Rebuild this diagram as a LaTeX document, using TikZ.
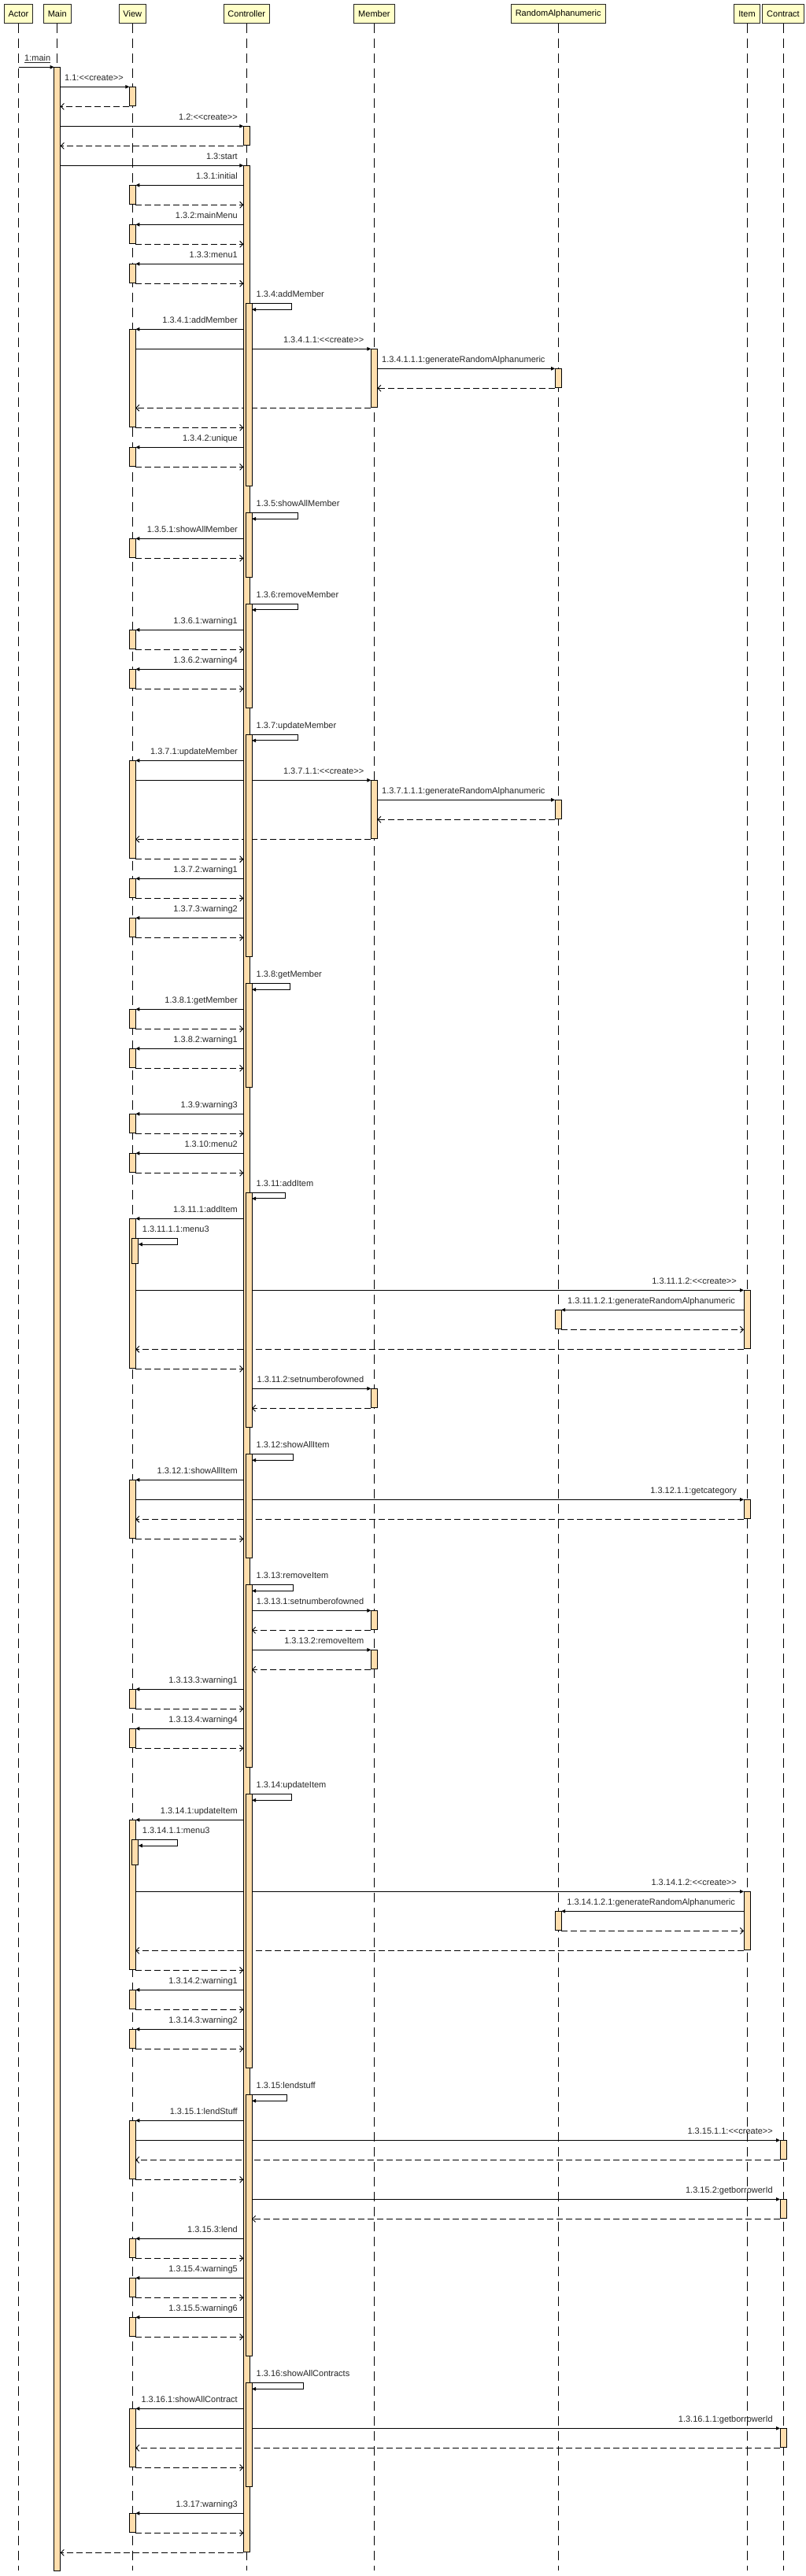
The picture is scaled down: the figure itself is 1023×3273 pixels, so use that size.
\documentclass[tikz,border=0pt]{standalone}
\usepackage{fontspec}
\setmainfont{Liberation Sans}
\usetikzlibrary{arrows.meta}
\definecolor{hdrfill}{RGB}{255,255,200}
\definecolor{barfill}{RGB}{255,222,173}
\pgfdeclarelayer{bgl}
\pgfdeclarelayer{ll}
\pgfdeclarelayer{msgl}
\pgfsetlayers{bgl,ll,msgl,main}
\tikzset{
  hdr/.style={draw=black!85, fill=hdrfill, minimum height=24pt, inner xsep=5.5pt, inner ysep=0pt, font=\fontsize{11}{13}\selectfont, line width=0.8pt},
  life/.style={draw=black, line width=0.9pt, dash pattern=on 12.5pt off 6.5pt},
  msg/.style={draw=black, line width=0.9pt, -{Triangle[length=5pt,width=4.5pt]}},
  ret/.style={draw=black, line width=0.9pt, dash pattern=on 8pt off 4pt, -{Straight Barb[length=4pt,width=8pt]}},
  actbar/.style={draw=black, fill=barfill, line width=0.8pt},
  lbl/.style={font=\fontsize{11}{13}\selectfont, inner sep=0pt, text=black!85},
}
\newcommand\ltlt{<\kern0pt<}
\newcommand\gtgt{>\kern0pt>}
\newcommand\sqMsg[3]{\begin{pgfonlayer}{msgl}\draw[msg] (#1,#3) -- (#2,#3);\end{pgfonlayer}}
\newcommand\sqRet[3]{\begin{pgfonlayer}{msgl}\draw[ret] (#1,#3) -- (#2,#3);\end{pgfonlayer}}
\newcommand\sqBar[3]{\filldraw[actbar] (#1-4,#2) rectangle (#1+4,#3);}
\newcommand\sqLblE[3]{\node[lbl,anchor=base east] at (#1,#2-8) {#3};}
\newcommand\sqLblW[3]{\node[lbl,anchor=base west] at (#1,#2-8) {#3};}
% controller -> view simple call
\newcommand\sqVcall[2]{\sqMsg{309.3}{172.3}{#1}\sqBar{168.3}{#1}{#1+24}\sqRet{172.3}{309.3}{#1+25}\sqLblE{302}{#1}{#2}}
% controller -> view long call
\newcommand\sqVlong[3]{\sqMsg{309.3}{172.3}{#1}\sqBar{168.3}{#1}{#2}\sqRet{172.3}{309.3}{#2+1}\sqLblE{302}{#1}{#3}}
% controller self call
\newcommand\sqSelf[4]{\begin{pgfonlayer}{msgl}\draw[msg] (317.3,#1) -- (#2,#1) -- (#2,#1+7.6) -- (320,#1+7.6);\end{pgfonlayer}\sqBar{316}{#1}{#3}\sqLblW{325.5}{#1}{#4}}
% view self call
\newcommand\sqVself[3]{\begin{pgfonlayer}{msgl}\draw[msg] (172.3,#1) -- (225.3,#1) -- (225.3,#1+7.7) -- (175.8,#1+7.7);\end{pgfonlayer}\sqBar{171.8}{#1}{#2}\sqLblW{180.7}{#1}{#3}}
% rightward call to lifeline centre #2
\newcommand\sqCall[5]{\sqMsg{#1}{#2-4}{#3}\sqBar{#2}{#3}{#4}\sqRet{#2-4}{#1}{#4+1}\sqLblE{#2-13}{#3}{#5}}
% member -> random
\newcommand\sqMR[2]{\sqMsg{479.4}{705.2}{#1}\sqBar{709.2}{#1}{#1+24.4}\sqRet{705.2}{479.4}{#1+25}\sqLblW{485}{#1}{#2}}
% item -> random
\newcommand\sqIR[2]{\sqMsg{945}{713.2}{#1}\sqBar{709.2}{#1}{#1+24.4}\sqRet{713.2}{945}{#1+25}\sqLblE{934}{#1}{#2}}
\begin{document}
\begin{tikzpicture}[x=1pt,y=-1pt]
\begin{pgfonlayer}{bgl}
\fill[white] (0,0) rectangle (1023,3273);
\end{pgfonlayer}
\path[use as bounding box] (0,0) rectangle (1023,3273);
% headers
\node[hdr] (actor) at (23.5,17.3) {Actor};
\node[hdr] (main) at (72.7,17.3) {Main};
\node[hdr] (view) at (168.3,17.3) {View};
\node[hdr] (ctrl) at (313.3,17.3) {Controller};
\node[hdr] (member) at (475.4,17.3) {Member};
\node[hdr] (ra) at (709.2,17.3) {RandomAlphanumeric};
\node[hdr] (item) at (949,17.3) {Item};
\node[hdr] (contract) at (995,17.3) {Contract};
\begin{pgfonlayer}{ll}
\foreach \n in {actor,main,view,ctrl,member,ra,item,contract}
  \draw[life] (\n.south) -- (\n.south |- 0,3266);
\end{pgfonlayer}
% 1:main
\sqMsg{23.5}{68.7}{85.3}
\node[lbl,anchor=base west] (m1) at (31,77.3) {\underline{1:main}};
\sqBar{72.7}{85.3}{3266.7}
% 1.1
\sqMsg{76.7}{164.3}{110.3}
\sqBar{168.3}{110.3}{134.7}
\sqRet{164.3}{76.7}{135.3}
\sqLblE{157}{110.3}{1.1:\ltlt create\gtgt}
% 1.2
\sqMsg{76.7}{309.3}{160.3}
\sqBar{313.3}{160.3}{184.3}
\sqRet{309.3}{76.7}{185.3}
\sqLblE{302}{160.3}{1.2:\ltlt create\gtgt}
% 1.3
\sqMsg{76.7}{309.3}{210.3}
\sqBar{313.3}{210.3}{3242.3}
\sqRet{309.3}{76.7}{3243.3}
\sqLblE{302}{210.3}{1.3:start}
\sqVcall{235.3}{1.3.1:initial}
\sqVcall{285.3}{1.3.2:mainMenu}
\sqVcall{335.3}{1.3.3:menu1}
\sqSelf{385.7}{370}{617.3}{1.3.4:addMember}
\sqVlong{418.3}{542.3}{1.3.4.1:addMember}
\sqCall{172.3}{475.4}{443.3}{517.3}{1.3.4.1.1:\ltlt create\gtgt}
\sqMR{468.3}{1.3.4.1.1.1:generateRandomAlphanumeric}
\sqVcall{568.3}{1.3.4.2:unique}
\sqSelf{651.7}{378.5}{733.3}{1.3.5:showAllMember}
\sqVcall{684.3}{1.3.5.1:showAllMember}
\sqSelf{767.3}{378.5}{899.3}{1.3.6:removeMember}
\sqVcall{800.3}{1.3.6.1:warning1}
\sqVcall{850.3}{1.3.6.2:warning4}
\sqSelf{933.3}{378}{1215.3}{1.3.7:updateMember}
\sqVlong{966.3}{1090.7}{1.3.7.1:updateMember}
\sqCall{172.3}{475.4}{991.3}{1065.3}{1.3.7.1.1:\ltlt create\gtgt}
\sqMR{1016.3}{1.3.7.1.1.1:generateRandomAlphanumeric}
\sqVcall{1116.3}{1.3.7.2:warning1}
\sqVcall{1166.3}{1.3.7.3:warning2}
\sqSelf{1249.7}{368}{1381.7}{1.3.8:getMember}
\sqVcall{1282.3}{1.3.8.1:getMember}
\sqVcall{1332.3}{1.3.8.2:warning1}
\sqVcall{1415.3}{1.3.9:warning3}
\sqVcall{1465.3}{1.3.10:menu2}
\sqSelf{1515.3}{362.8}{1813.3}{1.3.11:addItem}
\sqVlong{1548.3}{1738.3}{1.3.11.1:addItem}
\sqVself{1573.3}{1605.3}{1.3.11.1.1:menu3}
\sqCall{172.3}{949}{1639.3}{1713.3}{1.3.11.1.2:\ltlt create\gtgt}
\sqIR{1664.3}{1.3.11.1.2.1:generateRandomAlphanumeric}
\sqCall{320}{475.4}{1764.3}{1788.3}{1.3.11.2:setnumberofowned}
\sqSelf{1847.7}{372}{1979.3}{1.3.12:showAllItem}
\sqVlong{1880.3}{1954.3}{1.3.12.1:showAllItem}
\sqCall{172.3}{949}{1905.3}{1929.3}{1.3.12.1.1:getcategory}
\sqSelf{2013.7}{372}{2245.3}{1.3.13:removeItem}
\sqCall{320}{475.4}{2046.3}{2070.3}{1.3.13.1:setnumberofowned}
\sqCall{320}{475.4}{2096.3}{2120.3}{1.3.13.2:removeItem}
\sqVcall{2146.3}{1.3.13.3:warning1}
\sqVcall{2196.3}{1.3.13.4:warning4}
\sqSelf{2279.7}{370.7}{2627.3}{1.3.14:updateItem}
\sqVlong{2312.3}{2502.3}{1.3.14.1:updateItem}
\sqVself{2337.3}{2369.3}{1.3.14.1.1:menu3}
\sqCall{172.3}{949}{2403.3}{2477.3}{1.3.14.1.2:\ltlt create\gtgt}
\sqIR{2428.3}{1.3.14.1.2.1:generateRandomAlphanumeric}
\sqVcall{2528.3}{1.3.14.2:warning1}
\sqVcall{2578.3}{1.3.14.3:warning2}
\sqSelf{2661.7}{364.8}{2993.3}{1.3.15:lendstuff}
\sqVlong{2694.3}{2768.3}{1.3.15.1:lendStuff}
\sqCall{172.3}{995}{2719.3}{2743.3}{1.3.15.1.1:\ltlt create\gtgt}
\sqCall{320}{995}{2794.3}{2818.3}{1.3.15.2:getborrowerId}
\sqVcall{2844.3}{1.3.15.3:lend}
\sqVcall{2894.3}{1.3.15.4:warning5}
\sqVcall{2944.3}{1.3.15.5:warning6}
\sqSelf{3027.7}{385.7}{3159.3}{1.3.16:showAllContracts}
\sqVlong{3060.3}{3134.3}{1.3.16.1:showAllContract}
\sqCall{172.3}{995}{3085.3}{3109.3}{1.3.16.1.1:getborrowerId}
\sqVcall{3193.3}{1.3.17:warning3}
\end{tikzpicture}
\end{document}
